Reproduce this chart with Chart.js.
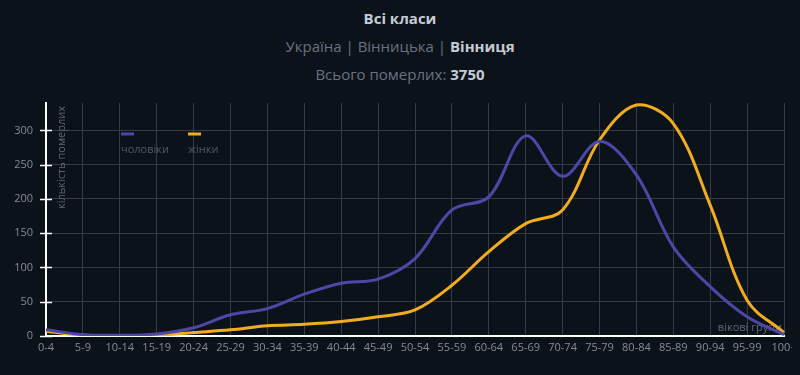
<!DOCTYPE html>
<html>
<head>
<meta charset="utf-8">
<script src="https://cdn.jsdelivr.net/npm/chart.js@4"></script>
<style>
  html, body { margin: 0; padding: 0; background: #0c1219; width: 800px; height: 375px; overflow: hidden; }
  body { font-family: "Open Sans", sans-serif; position: relative; }
  .hdr { position: absolute; left: 0; width: 800px; text-align: center; font-size: 15px; line-height: 20px; color: #6b7380; }
  .hdr b { color: #c5ccd6; font-weight: 700; }
  #t1 { top: 8px; color: #c5ccd6; font-weight: 700; }
  #t2 { top: 36px; }
  #t3 { top: 64px; }
  #wrap { position: absolute; left: 0; top: 0; width: 792px; height: 375px; }
</style>
</head>
<body>
<div class="hdr" id="t1">Всі класи</div>
<div class="hdr" id="t2">Україна | Вінницька | <b>Вінниця</b></div>
<div class="hdr" id="t3">Всього померлих: <b>3750</b></div>
<div id="wrap"><canvas id="chart"></canvas></div>
<script>
// age groups and deaths per group
const ageGroups = ['0-4', '5-9', '10-14', '15-19', '20-24', '25-29', '30-34', '35-39', '40-44', '45-49',
    '50-54', '55-59', '60-64', '65-69', '70-74', '75-79', '80-84', '85-89', '90-94', '95-99', '100+'];
const men = [9, 2, 1, 3, 12, 31, 40, 61, 77, 83, 113, 184, 203, 292, 233, 284, 235, 130, 72, 28, 2];
const women = [7, 1, 0, 1, 5, 9, 15, 17, 21, 28, 38, 74, 123, 164, 184, 286, 337, 310, 191, 52, 5];
const seriesNames = ['чоловіки', 'жінки'];
const yTicks = [0, 50, 100, 150, 200, 250, 300];

const MEN_COLOR = '#4d47a8';
const WOMEN_COLOR = '#f2ad1f';
const GRID = '#363c45';
const FONT = '"Open Sans", sans-serif';

// axis titles, tick crosses and the small legend are drawn by hand
const decor = {
    id: 'decor',
    beforeDatasetsDraw(chart) {
        const ctx = chart.ctx;
        const area = chart.chartArea;
        ctx.save();
        ctx.fillStyle = '#5f6774';
        ctx.font = '11px ' + FONT;
        ctx.textAlign = 'right';
        ctx.textBaseline = 'alphabetic';
        ctx.fillText('вікові групи', area.right - 2, area.bottom - 5);

        ctx.translate(area.left + 16, area.top + 3);
        ctx.rotate(-Math.PI / 2);
        ctx.textAlign = 'right';
        ctx.textBaseline = 'middle';
        ctx.fillText('кількість померлих', 0, 0);
        ctx.restore();
    },
    afterDraw(chart) {
        const ctx = chart.ctx;
        const area = chart.chartArea;
        const y = chart.scales.y;
        ctx.save();
        ctx.strokeStyle = '#ffffff';
        ctx.lineWidth = 1.5;
        yTicks.forEach(v => {
            const py = Math.round(y.getPixelForValue(v)) + 0.5;
            ctx.beginPath();
            ctx.moveTo(area.left - 6, py);
            ctx.lineTo(area.left + 6, py);
            ctx.stroke();
        });

        // legend
        const items = [
            { text: seriesNames[0], color: MEN_COLOR, x: area.left + 75 },
            { text: seriesNames[1], color: WOMEN_COLOR, x: area.left + 142 }
        ];
        ctx.font = '11px ' + FONT;
        ctx.textAlign = 'left';
        ctx.textBaseline = 'middle';
        items.forEach(it => {
            ctx.strokeStyle = it.color;
            ctx.lineWidth = 3;
            ctx.beginPath();
            ctx.moveTo(it.x, area.top + 31);
            ctx.lineTo(it.x + 13, area.top + 31);
            ctx.stroke();
            ctx.fillStyle = '#505866';
            ctx.fillText(it.text, it.x, area.top + 47);
        });
        ctx.restore();
    }
};

const ctx = document.getElementById('chart').getContext('2d');
new Chart(ctx, {
    type: 'line',
    data: {
        labels: ageGroups,
        datasets: [{
            label: seriesNames[0],
            data: men,
            borderColor: MEN_COLOR,
            borderWidth: 3,
            pointRadius: 0,
            tension: 0.35,
            fill: false
        }, {
            label: seriesNames[1],
            data: women,
            borderColor: WOMEN_COLOR,
            borderWidth: 3,
            pointRadius: 0,
            tension: 0.35,
            fill: false
        }]
    },
    options: {
        responsive: true,
        maintainAspectRatio: false,
        animation: false,
        layout: {
            padding: { top: 103, right: 8, left: 0, bottom: 0 }
        },
        scales: {
            x: {
                grid: { color: GRID, drawTicks: false },
                border: { color: '#ffffff', width: 2 },
                ticks: {
                    color: '#858c96',
                    font: { family: FONT, size: 11 },
                    padding: 5,
                    autoSkip: false,
                    maxRotation: 0
                },
                afterFit(scale) {
                    scale.height = 39;
                    scale.paddingLeft = 0;
                    scale.paddingRight = 0;
                }
            },
            y: {
                min: 0,
                max: 340,
                grid: { color: GRID, drawTicks: false },
                border: { color: '#ffffff', width: 2 },
                ticks: {
                    stepSize: 50,
                    color: '#858c96',
                    font: { family: FONT, size: 11 },
                    padding: 13
                },
                afterBuildTicks(scale) {
                    scale.ticks = yTicks.map(v => ({ value: v }));
                },
                afterFit(scale) {
                    scale.width = 46;
                }
            }
        },
        plugins: {
            legend: { display: false },
            tooltip: { enabled: false }
        }
    },
    plugins: [decor]
});
</script>
</body>
</html>
